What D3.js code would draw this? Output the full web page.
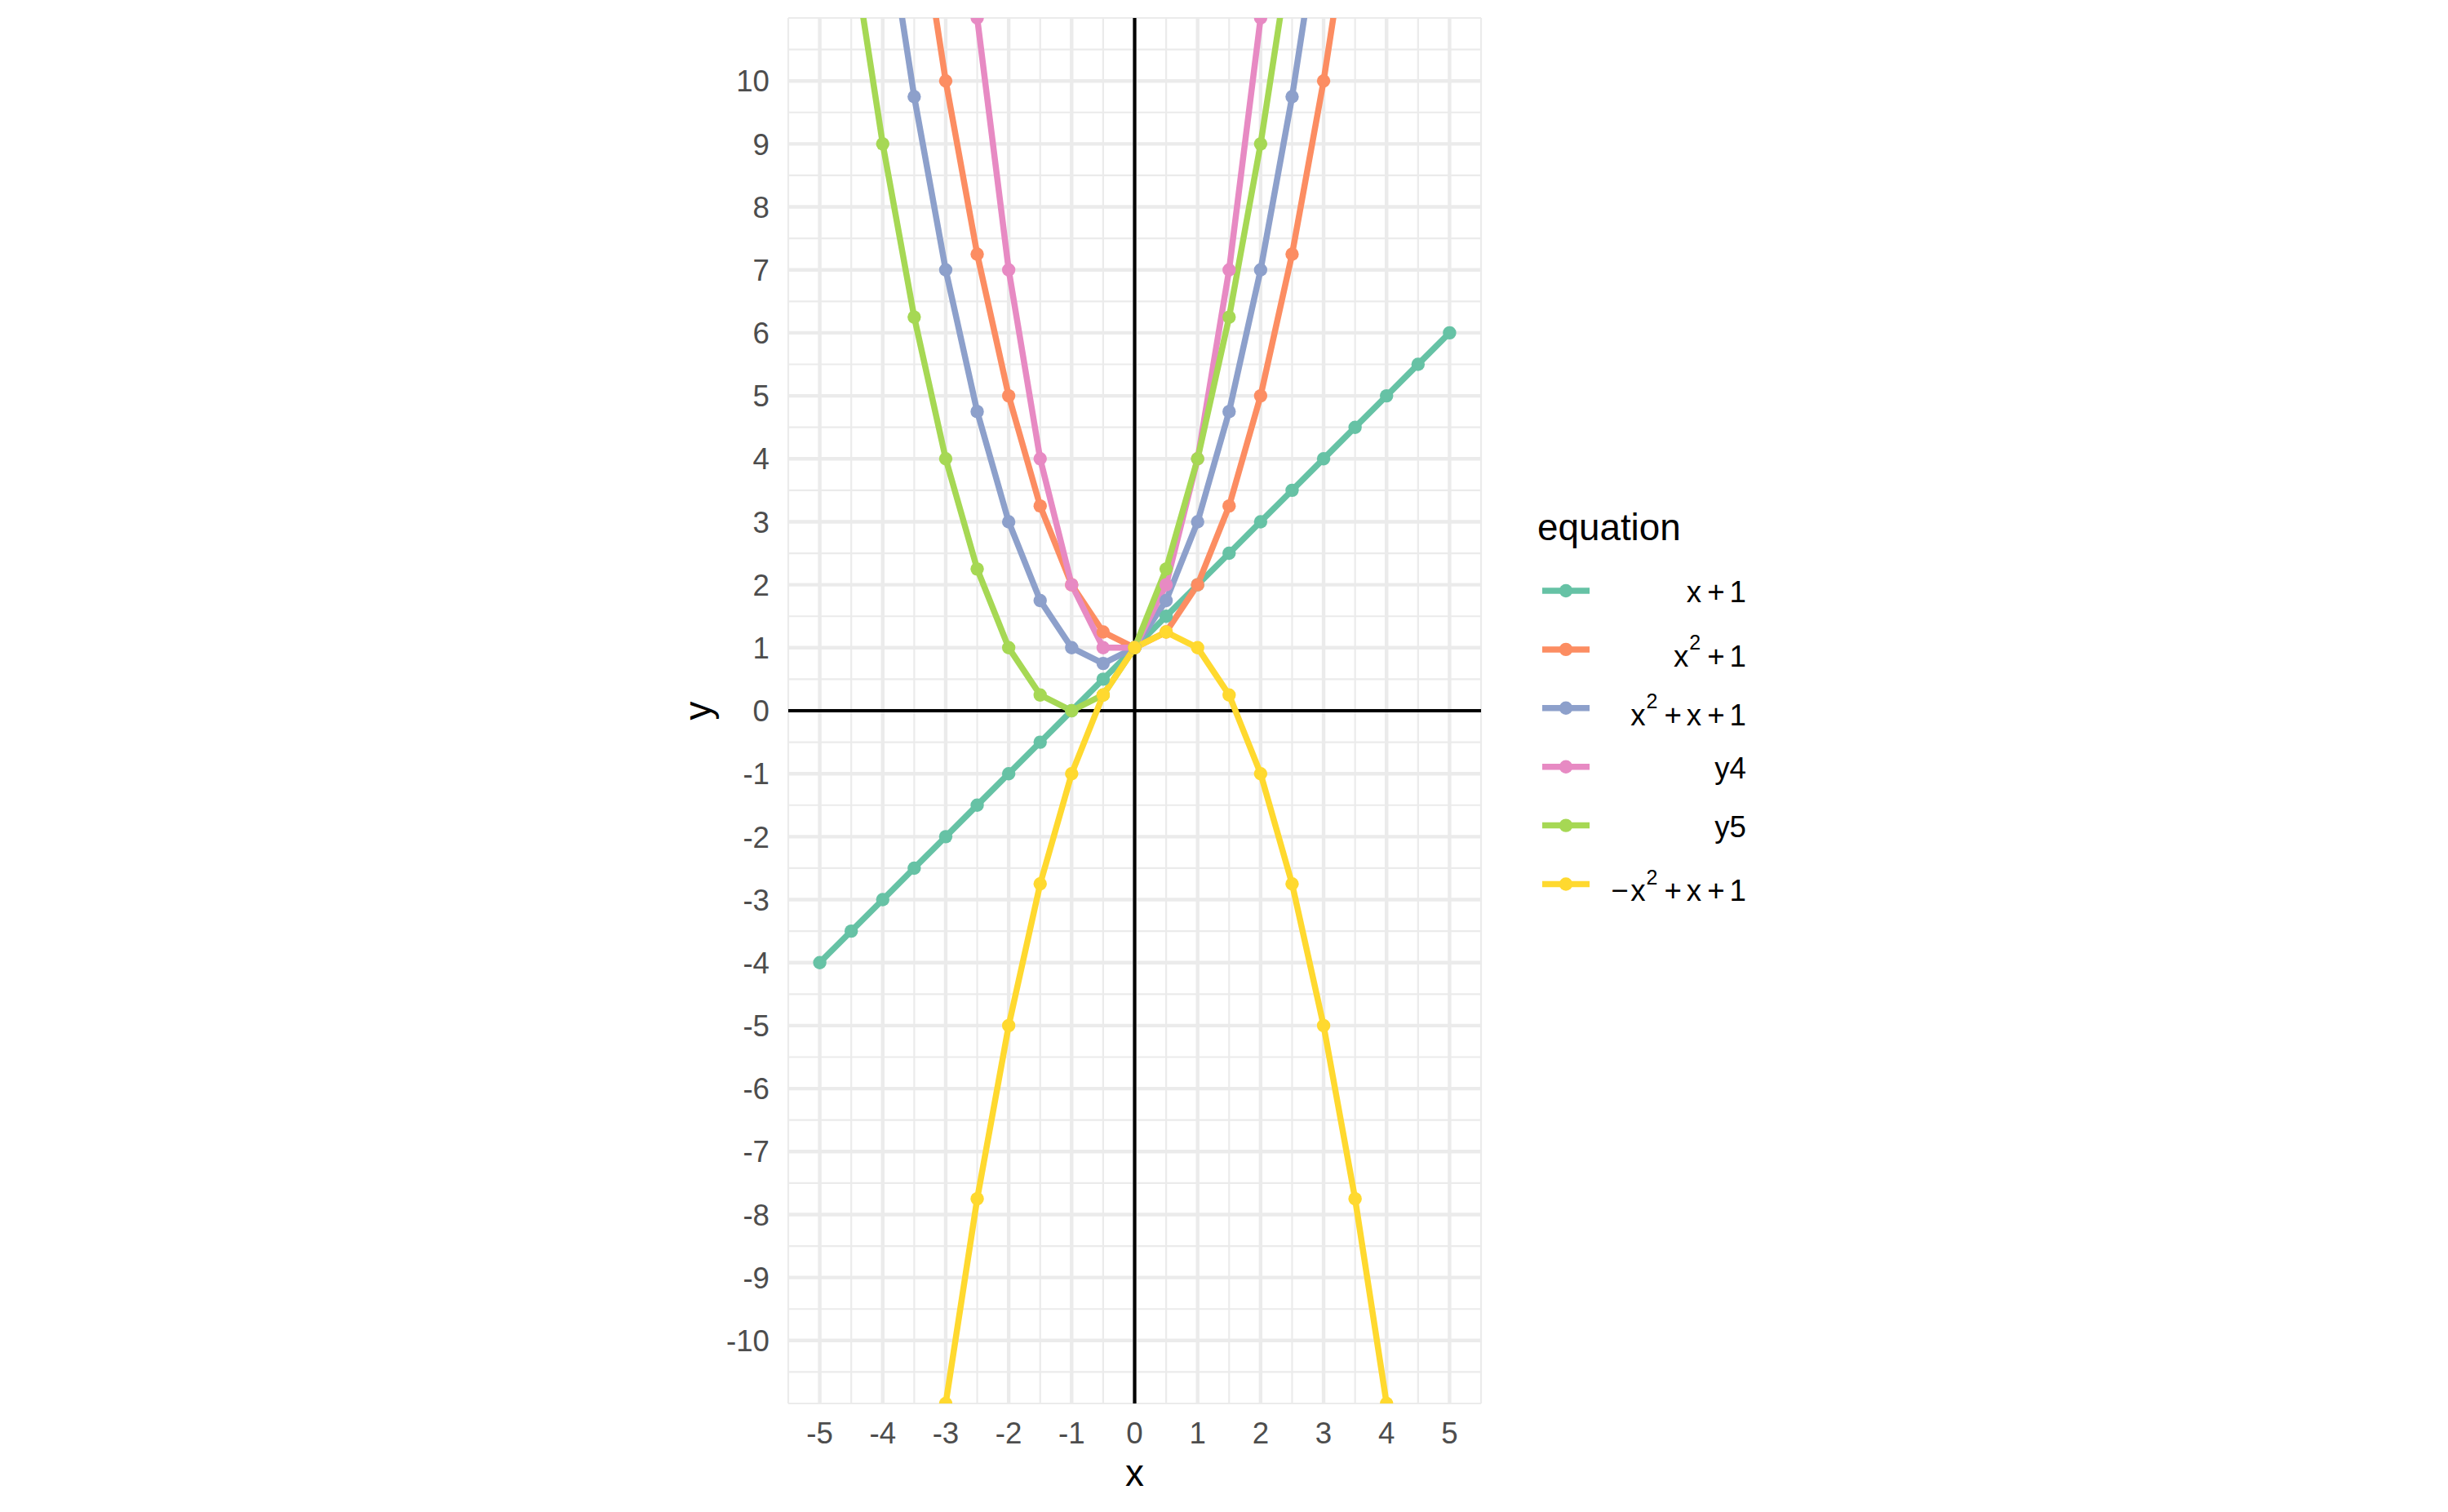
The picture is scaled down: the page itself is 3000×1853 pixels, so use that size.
<!DOCTYPE html>
<html>
<head>
<meta charset="utf-8">
<script src="https://cdn.jsdelivr.net/npm/d3@7"></script>
<style>
  body { margin: 0; background: #ffffff; }
  svg { display: block; }
  text { font-family: "Liberation Sans", Arial, sans-serif; }
</style>
</head>
<body>
<svg id="chart" width="3000" height="1853"></svg>
<script>
// ---------- data ----------
const xValues = [-5, -4.5, -4, -3.5, -3, -2.5, -2, -1.5, -1, -0.5, 0, 0.5, 1, 1.5, 2, 2.5, 3, 3.5, 4, 4.5, 5];
const seriesKeys = ["x+1", "x^2+1", "x^2+x+1", "y4", "y5", "-x^2+x+1"];
const yLinear    = [-4, -3.5, -3, -2.5, -2, -1.5, -1, -0.5, 0, 0.5, 1, 1.5, 2, 2.5, 3, 3.5, 4, 4.5, 5, 5.5, 6];
const ySquare    = [26, 21.25, 17, 13.25, 10, 7.25, 5, 3.25, 2, 1.25, 1, 1.25, 2, 3.25, 5, 7.25, 10, 13.25, 17, 21.25, 26];
const ySquareX   = [21, 16.75, 13, 9.75, 7, 4.75, 3, 1.75, 1, 0.75, 1, 1.75, 3, 4.75, 7, 9.75, 13, 16.75, 21, 25.75, 31];
const yFour      = [46, 37, 29, 22, 16, 11, 7, 4, 2, 1, 1, 2, 4, 7, 11, 16, 22, 29, 37, 46, 56];
const yFive      = [16, 12.25, 9, 6.25, 4, 2.25, 1, 0.25, 0, 0.25, 1, 2.25, 4, 6.25, 9, 12.25, 16, 20.25, 25, 30.25, 36];
const yNegSquare = [-29, -23.75, -19, -14.75, -11, -7.75, -5, -2.75, -1, 0.25, 1, 1.25, 1, 0.25, -1, -2.75, -5, -7.75, -11, -15.25, -19];
const seriesValues = [yLinear, ySquare, ySquareX, yFour, yFive, yNegSquare];
const seriesColors = ["#66C2A5", "#FC8D62", "#8DA0CB", "#E78AC3", "#A6D854", "#FFD92F"];
// legend labels as plotmath-like pieces: [text, kind] kind: "" normal, "sup" superscript, "op" binary operator
const legendLabels = [
  [["x", ""], ["+", "op"], ["1", ""]],
  [["x", ""], ["2", "sup"], ["+", "op"], ["1", ""]],
  [["x", ""], ["2", "sup"], ["+", "op"], ["x", ""], ["+", "op"], ["1", ""]],
  [["y4", ""]],
  [["y5", ""]],
  [["\u2212", "neg"], ["x", ""], ["2", "sup"], ["+", "op"], ["x", ""], ["+", "op"], ["1", ""]]
];
const xTicks = [-5, -4, -3, -2, -1, 0, 1, 2, 3, 4, 5];
const yTicks = [-10, -9, -8, -7, -6, -5, -4, -3, -2, -1, 0, 1, 2, 3, 4, 5, 6, 7, 8, 9, 10];
const xDomain = [-5.5, 5.5];
const yDomain = [-11, 11];

// ---------- layout ----------
const panel = { left: 966, right: 1815, top: 22, bottom: 1720 };
const svg = d3.select("#chart");
const x = d3.scaleLinear().domain(xDomain).range([panel.left, panel.right]);
const y = d3.scaleLinear().domain(yDomain).range([panel.bottom, panel.top]);

const gridColor = "#EBEBEB";
const grid = svg.append("g");
const xMinor = d3.range(xDomain[0], xDomain[1] + 0.001, 0.5).filter(v => !Number.isInteger(v) || v < -5 || v > 5);
const yMinor = d3.range(yDomain[0], yDomain[1] + 0.001, 0.5).filter(v => !Number.isInteger(v) || v < -10 || v > 10);
grid.selectAll(".vminor").data(xMinor).join("line")
  .attr("x1", d => x(d)).attr("x2", d => x(d)).attr("y1", panel.top).attr("y2", panel.bottom)
  .attr("stroke", gridColor).attr("stroke-width", 2.2);
grid.selectAll(".hminor").data(yMinor).join("line")
  .attr("y1", d => y(d)).attr("y2", d => y(d)).attr("x1", panel.left).attr("x2", panel.right)
  .attr("stroke", gridColor).attr("stroke-width", 2.2);
grid.selectAll(".vmajor").data(xTicks).join("line")
  .attr("x1", d => x(d)).attr("x2", d => x(d)).attr("y1", panel.top).attr("y2", panel.bottom)
  .attr("stroke", gridColor).attr("stroke-width", 4.4);
grid.selectAll(".hmajor").data(yTicks).join("line")
  .attr("y1", d => y(d)).attr("y2", d => y(d)).attr("x1", panel.left).attr("x2", panel.right)
  .attr("stroke", gridColor).attr("stroke-width", 4.4);

// clip
svg.append("defs").append("clipPath").attr("id", "clip")
  .append("rect").attr("x", panel.left).attr("y", panel.top)
  .attr("width", panel.right - panel.left).attr("height", panel.bottom - panel.top);

const plot = svg.append("g").attr("clip-path", "url(#clip)");

// reference axes
plot.append("line").attr("x1", panel.left).attr("x2", panel.right).attr("y1", y(0)).attr("y2", y(0))
  .attr("stroke", "#000").attr("stroke-width", 4.2);
plot.append("line").attr("y1", panel.top).attr("y2", panel.bottom).attr("x1", x(0)).attr("x2", x(0))
  .attr("stroke", "#000").attr("stroke-width", 4.2);

const series = seriesKeys.map((k, i) => ({
  key: k, color: seriesColors[i],
  pts: xValues.map((xv, j) => ({ x: xv, y: seriesValues[i][j] }))
}));

const line = d3.line().x(d => x(d.x)).y(d => y(d.y));
plot.selectAll(".series-line").data(series).join("path")
  .attr("d", d => line(d.pts))
  .attr("fill", "none").attr("stroke", d => d.color)
  .attr("stroke-width", 7.5).attr("stroke-linejoin", "round").attr("stroke-linecap", "butt");

series.forEach(s => {
  plot.append("g").selectAll("circle").data(s.pts).join("circle")
    .attr("cx", d => x(d.x)).attr("cy", d => y(d.y)).attr("r", 8.2).attr("fill", s.color);
});

// axes labels
const tickColor = "#4D4D4D";
const tickSize = 36.7;
svg.append("g").selectAll("text").data(yTicks).join("text")
  .attr("x", 943).attr("y", d => y(d)).attr("dy", "0.36em")
  .attr("text-anchor", "end").attr("font-size", tickSize).attr("fill", tickColor)
  .text(d => d);
svg.append("g").selectAll("text").data(xTicks).join("text")
  .attr("x", d => x(d)).attr("y", 1769)
  .attr("text-anchor", "middle").attr("font-size", tickSize).attr("fill", tickColor)
  .text(d => d);

svg.append("text").attr("x", (panel.left + panel.right) / 2).attr("y", 1821)
  .attr("text-anchor", "middle").attr("font-size", 45.8).attr("fill", "#000").text("x");
svg.append("text").attr("transform", `translate(870.8,${(panel.top + panel.bottom) / 2}) rotate(-90)`)
  .attr("text-anchor", "middle").attr("font-size", 45.8).attr("fill", "#000").text("y");

// legend
const legend = svg.append("g");
legend.append("text").attr("x", 1884).attr("y", 662).attr("font-size", 45.8).attr("fill", "#000").text("equation");
const keyY0 = 724, keyStep = 71.9;
const supShift = 20.5;
series.forEach((s, i) => {
  const cy = keyY0 + i * keyStep;
  legend.append("line").attr("x1", 1890).attr("x2", 1948).attr("y1", cy).attr("y2", cy)
    .attr("stroke", s.color).attr("stroke-width", 7.5);
  legend.append("circle").attr("cx", 1919).attr("cy", cy).attr("r", 8.2).attr("fill", s.color);
  const parts = legendLabels[i];
  const hasSup = parts.some(p => p[1] === "sup");
  const t = legend.append("text").attr("x", 2140).attr("y", cy + (hasSup ? 20.7 : 14))
    .attr("text-anchor", "end").attr("font-size", 36.7).attr("fill", "#000");
  let prev = null;
  parts.forEach(p => {
    const ts = t.append("tspan").text(p[0]);
    let dx = 0, dy = 0;
    if (p[1] === "sup") { ts.attr("font-size", 25); dy = -supShift; dx = 1; }
    if (prev === "sup") dy = supShift;
    if (p[1] === "op") dx = (prev === "sup" ? 8 : 7);
    if (prev === "op") dx = 6;
    if (prev === "neg") dx = 2.5;
    if (dx) ts.attr("dx", dx);
    if (dy) ts.attr("dy", dy);
    prev = p[1];
  });
});
</script>
</body>
</html>
